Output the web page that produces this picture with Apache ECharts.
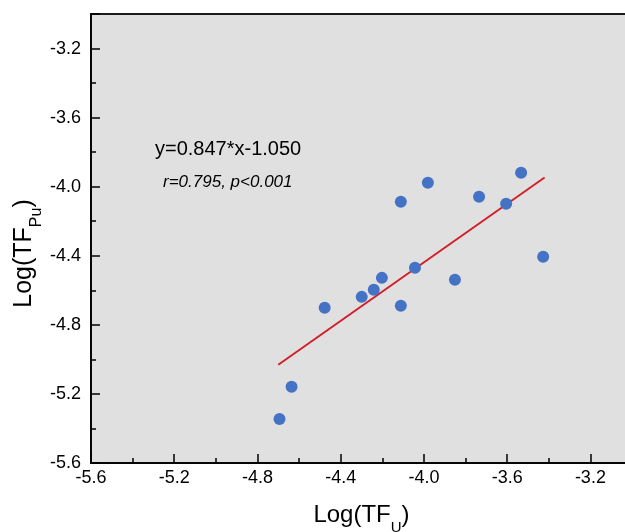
<!DOCTYPE html>
<html>
<head>
<meta charset="utf-8">
<script src="https://cdn.jsdelivr.net/npm/echarts@6/dist/echarts.min.js"></script>
<style>
html,body{margin:0;padding:0;background:#fff;}
#c{width:625px;height:532px;}
</style>
</head>
<body>
<div id="c"></div>
<script>
// Data
const logTFU  = [-4.694, -4.636, -4.477, -4.299, -4.241, -4.202, -4.111, -4.111, -4.043, -3.981, -3.851, -3.735, -3.605, -3.533, -3.427];
const logTFPu = [-5.345, -5.159, -4.701, -4.638, -4.597, -4.528, -4.690, -4.087, -4.470, -3.977, -4.539, -4.058, -4.099, -3.919, -4.406];
// Fit line as stated in the chart
const fitSlope = 0.847;
const fitIntercept = -1.050;
const fitX = [-4.70, -3.42];
const eqText = 'y=0.847*x-1.050';
const statText = 'r=0.795, p<0.001';

const points = logTFU.map((x, i) => [x, logTFPu[i]]);
const fitLine = fitX.map(x => [x, fitSlope * x + fitIntercept]);

const FONT = 'Liberation Sans, Arial, sans-serif';
const chart = echarts.init(document.getElementById('c'));
chart.setOption({
  animation: false,
  backgroundColor: '#ffffff',
  grid: {
    left: 91, top: 14, right: -7, bottom: 69,
    outerBoundsMode: 'none', containLabel: false,
    show: true, backgroundColor: '#e0e0e0',
    borderColor: '#1a1a1a', borderWidth: 2
  },
  xAxis: {
    type: 'value', min: -5.6, max: -3.0, interval: 0.4,
    name: '{a|Log(TF}{s|U}{a|)}',
    nameLocation: 'middle', nameGap: 40,
    nameTextStyle: { rich: {
      a: { fontSize: 24, fontFamily: FONT, color: '#000' },
      s: { fontSize: 15, fontFamily: FONT, color: '#000', verticalAlign: 'bottom', padding: [0,0,-8,0] }
    }},
    axisLine: { show: true, onZero: false, lineStyle: { color: '#000', width: 1.5 } },
    axisTick: { show: true, inside: true, length: 9, lineStyle: { color: '#000', width: 1.5 } },
    minorTick: { show: true, splitNumber: 2, length: 5, lineStyle: { color: '#000', width: 1.5 } },
    splitLine: { show: false },
    axisLabel: { color: '#000', fontSize: 18, fontFamily: FONT, margin: 6, showMaxLabel: false,
      formatter: v => v.toFixed(1) }
  },
  yAxis: {
    type: 'value', min: -5.6, max: -3.0, interval: 0.4,
    name: '{a|Log(TF}{s|Pu}{a|)}',
    nameLocation: 'middle', nameGap: 54, nameMoveOverlap: false,
    nameTextStyle: { padding: [0, 30, 0, 0], rich: {
      a: { fontSize: 25, fontFamily: FONT, color: '#000' },
      s: { fontSize: 16, fontFamily: FONT, color: '#000', verticalAlign: 'bottom', padding: [0,0,-8,0] }
    }},
    axisLine: { show: true, onZero: false, lineStyle: { color: '#000', width: 1.5 } },
    axisTick: { show: true, inside: true, length: 9, lineStyle: { color: '#000', width: 1.5 } },
    minorTick: { show: true, splitNumber: 2, length: 5, lineStyle: { color: '#000', width: 1.5 } },
    splitLine: { show: false },
    axisLabel: { color: '#000', fontSize: 18, fontFamily: FONT, margin: 10, showMaxLabel: false,
      formatter: v => v.toFixed(1) }
  },
  series: [
    {
      type: 'line', data: fitLine, symbol: 'none',
      lineStyle: { color: '#d0202a', width: 2 }, z: 2
    },
    {
      type: 'scatter', data: points, symbol: 'circle', symbolSize: 12,
      itemStyle: { color: '#4472c4', opacity: 1 }, z: 3
    }
  ],
  graphic: [
    { type: 'text', left: 155, top: 139,
      style: { text: eqText, font: '20px ' + FONT, fill: '#000' } },
    { type: 'text', left: 163, top: 174,
      style: { text: statText, font: 'italic 17px ' + FONT, fill: '#000' } }
  ]
});
</script>
</body>
</html>
